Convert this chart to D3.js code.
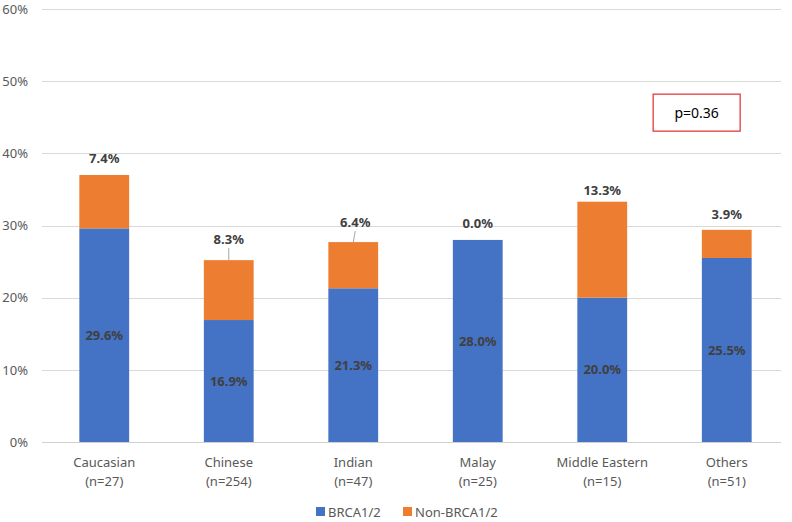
<!DOCTYPE html>
<html>
<head>
<meta charset="utf-8">
<script src="https://cdn.jsdelivr.net/npm/d3@7"></script>
<style>
  body { margin: 0; background: #fff; }
  text { font-family: "Noto Sans", "Liberation Sans", sans-serif; }
</style>
</head>
<body>
<div id="chart"></div>
<script>
// data
const groups = ["Caucasian", "Chinese", "Indian", "Malay", "Middle Eastern", "Others"];
const groupN = ["(n=27)", "(n=254)", "(n=47)", "(n=25)", "(n=15)", "(n=51)"];
const brca = [29.6, 16.9, 21.3, 28.0, 20.0, 25.5];
const nonBrca = [7.4, 8.3, 6.4, 0.0, 13.3, 3.9];
const yTicks = [0, 10, 20, 30, 40, 50, 60];
const seriesNames = ["BRCA1/2", "Non-BRCA1/2"];
const pValue = "p=0.36";

// layout: how far the top labels sit above each bar (px), some were dragged with a leader line
const labelLift = [17, 21, 20, 16, 11, 15];
const leaderDx = [0, 0, 2, 0, 0, 0];

const W = 792, H = 522;
const margin = { top: 9, right: 3, bottom: 80, left: 42 };
const width = W - margin.left - margin.right,
      height = H - margin.top - margin.bottom;

const colors = ["#4472C4", "#ED7D31"];

const svg = d3.select("#chart").append("svg")
  .attr("width", W)
  .attr("height", H);

const g = svg.append("g")
  .attr("transform", `translate(${margin.left},${margin.top})`);

const x = d3.scaleBand()
  .domain(groups)
  .range([0, width])
  .paddingInner(0.6)
  .paddingOuter(0.3);

const y = d3.scaleLinear()
  .domain([0, 60])
  .range([height, 0]);

// grid
g.selectAll(".grid")
  .data(yTicks)
  .join("line")
    .attr("x1", 0)
    .attr("x2", width - 8)
    .attr("y1", d => Math.round(y(d)) + 0.5)
    .attr("y2", d => Math.round(y(d)) + 0.5)
    .attr("stroke", d => d === 0 ? "#d0d0d0" : "#d9d9d9")
    .attr("stroke-width", 1);

// y axis labels
const yAxis = g.append("g")
  .call(d3.axisLeft(y).tickValues(yTicks).tickFormat(d => d + "%").tickSize(0).tickPadding(14));
yAxis.select(".domain").remove();
yAxis.selectAll("text")
  .attr("fill", "#595959")
  .style("font-size", "13px");

// stacked bars
const rows = groups.map((k, i) => ({ group: k, brca: brca[i], non: nonBrca[i], i }));
const stack = d3.stack().keys(["brca", "non"]);
const layers = stack(rows);

g.selectAll(".layer")
  .data(layers)
  .join("g")
    .attr("fill", (d, i) => colors[i])
  .selectAll("rect")
  .data(d => d)
  .join("rect")
    .attr("x", d => x(d.data.group))
    .attr("width", x.bandwidth())
    .attr("y", d => y(d[1]))
    .attr("height", d => y(d[0]) - y(d[1]));

// labels inside blue segments
g.selectAll(".inlbl")
  .data(rows)
  .join("text")
    .attr("x", d => x(d.group) + x.bandwidth() / 2)
    .attr("y", d => y(d.brca / 2))
    .attr("dy", "0.35em")
    .attr("text-anchor", "middle")
    .attr("fill", "#404040")
    .style("font-size", "13px")
    .style("font-weight", "bold")
    .text(d => d.brca.toFixed(1) + "%");

// labels above bars
g.selectAll(".toplbl")
  .data(rows)
  .join("text")
    .attr("x", d => x(d.group) + x.bandwidth() / 2 + leaderDx[d.i])
    .attr("y", d => y(d.brca + d.non) - labelLift[d.i])
    .attr("dy", "0.35em")
    .attr("text-anchor", "middle")
    .attr("fill", "#404040")
    .style("font-size", "13px")
    .style("font-weight", "bold")
    .text(d => d.non.toFixed(1) + "%");

// leader lines for the dragged labels
g.selectAll(".leader")
  .data(rows.filter(d => labelLift[d.i] > 18))
  .join("line")
    .attr("x1", d => x(d.group) + x.bandwidth() / 2 + leaderDx[d.i])
    .attr("y1", d => y(d.brca + d.non) - labelLift[d.i] + 9)
    .attr("x2", d => x(d.group) + x.bandwidth() / 2)
    .attr("y2", d => y(d.brca + d.non))
    .attr("stroke", "#a6a6a6")
    .attr("stroke-width", 1);

// category labels
const cat = g.selectAll(".cat")
  .data(rows)
  .join("text")
    .attr("x", d => x(d.group) + x.bandwidth() / 2)
    .attr("y", height + 25)
    .attr("text-anchor", "middle")
    .attr("fill", "#595959")
    .style("font-size", "13px");
cat.append("tspan").text(d => d.group);
cat.append("tspan")
  .attr("x", d => x(d.group) + x.bandwidth() / 2)
  .attr("dy", 19)
  .text(d => groupN[d.i]);

// p-value box
const px = x("Middle Eastern") + x.bandwidth() + 26;
const pBox = g.append("g").attr("transform", `translate(${px},${y(48.2)})`);
pBox.append("rect")
  .attr("width", 87)
  .attr("height", 37)
  .attr("fill", "#fff")
  .attr("stroke", "#e03c3c")
  .attr("stroke-width", 1.3);
pBox.append("text")
  .attr("x", 43.5)
  .attr("y", 18.5)
  .attr("dy", "0.35em")
  .attr("text-anchor", "middle")
  .attr("fill", "#000")
  .style("font-size", "14px")
  .text(pValue);

// legend
const legend = svg.append("g")
  .attr("transform", `translate(316, 512)`);
const item = legend.selectAll(".legend-item")
  .data(seriesNames)
  .join("g")
    .attr("transform", (d, i) => `translate(${i * 87},0)`);
item.append("rect")
  .attr("y", -5)
  .attr("width", 9)
  .attr("height", 9)
  .attr("fill", (d, i) => colors[i]);
item.append("text")
  .attr("x", 12)
  .attr("dy", "0.35em")
  .attr("fill", "#595959")
  .style("font-size", "13px")
  .text(d => d);
</script>
</body>
</html>
